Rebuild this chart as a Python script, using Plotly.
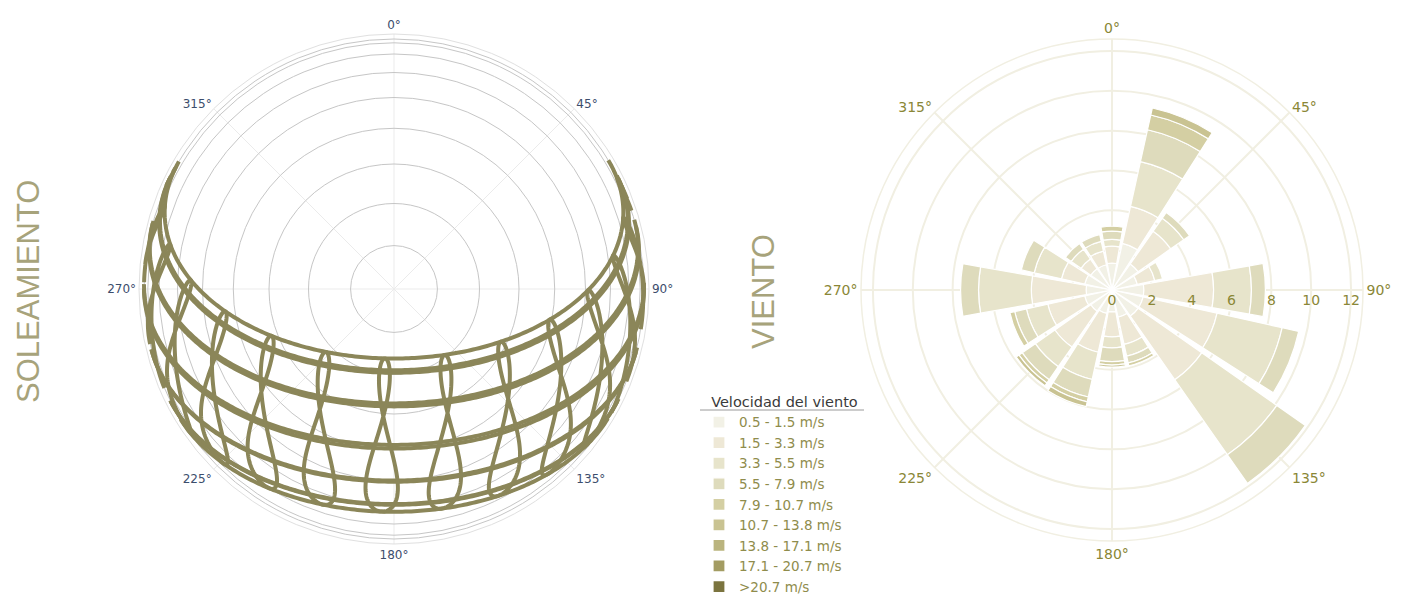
import numpy as np
import plotly.graph_objects as go

# ---- sun path (soleamiento) inputs ----
LATITUDE = 39.6
LONGITUDE = 2.65
UTC_OFFSET = 1
# day of year of the 21st of each month
PATH_DAYS = [21, 52, 80, 111, 141, 172, 202, 233, 264, 294, 325, 355]
# clock hours drawn as analemmas
HOURS = [5, 6, 7, 8, 9, 10, 11, 12, 13, 14, 15, 16, 17, 18, 19, 20]
ALTITUDE_RINGS = [0, 10, 20, 30, 40, 50, 60, 70, 80]

# ---- wind rose (viento) data, % of time per direction and speed bin ----
DIRECTIONS = [0, 22.5, 45, 67.5, 90, 112.5, 135, 157.5,
              180, 202.5, 225, 247.5, 270, 292.5, 315, 337.5]
SPEED_BINS = ["0.5 - 1.5 m/s", "1.5 - 3.3 m/s", "3.3 - 5.5 m/s", "5.5 - 7.9 m/s",
              "7.9 - 10.7 m/s", "10.7 - 13.8 m/s", "13.8 - 17.1 m/s",
              "17.1 - 20.7 m/s", ">20.7 m/s"]
#              N     NNE   NE    ENE   E     ESE   SE    SSE   S     SSW   SW    WSW   W     WNW   NW    NNW
BIN_1 = [1.35, 2.40, 1.60, 1.30, 1.60, 1.60, 1.60, 1.40, 1.10, 1.20, 1.30, 1.40, 1.30, 1.40, 1.30, 1.30]
BIN_2 = [0.85, 1.90, 2.00, 0.90, 3.50, 3.80, 3.90, 1.40, 1.25, 2.00, 2.20, 1.90, 2.75, 1.20, 0.60, 0.70]
BIN_3 = [0.34, 2.30, 0.80, 0.40, 1.90, 3.35, 4.60, 0.60, 0.55, 1.40, 1.20, 1.10, 2.65, 1.40, 0.60, 0.50]
BIN_4 = [0.42, 1.64, 0.35, 0.00, 0.70, 0.85, 1.75, 0.35, 0.70, 0.90, 0.80, 0.60, 0.90, 0.66, 0.35, 0.35]
BIN_5 = [0.24, 0.76, 0.00, 0.00, 0.00, 0.00, 0.00, 0.15, 0.17, 0.25, 0.20, 0.25, 0.00, 0.00, 0.00, 0.00]
BIN_6 = [0.00, 0.36, 0.00, 0.00, 0.00, 0.00, 0.00, 0.00, 0.10, 0.25, 0.17, 0.00, 0.00, 0.00, 0.00, 0.00]
BIN_7 = [0.0] * 16
BIN_8 = [0.0] * 16
BIN_9 = [0.0] * 16
BIN_VALUES = [BIN_1, BIN_2, BIN_3, BIN_4, BIN_5, BIN_6, BIN_7, BIN_8, BIN_9]
BIN_COLORS = ["#f2f1e6", "#eee8d6", "#e7e4cb", "#dedbbc", "#d4cfa3",
              "#c9c392", "#bab47e", "#a39c62", "#7b743f"]

SUN_COLOR = "#8b8659"
OLIVE = "#8a8736"
TITLE_COLOR = "#a7a37b"

# page body has an 8px margin, figure fills the rest of the window
W, H = 1403, 589
OFF = 8


def fx(px):
    return (px - OFF) / W


def fy(py):
    return 1 - (py - OFF) / H


def sun_position(doy, minutes):
    '''altitude and azimuth (deg) for day of year and clock minutes'''
    g = 2 * np.pi / 365 * (doy - 1 + (minutes / 60 - 12) / 24)
    eot = 229.18 * (0.000075 + 0.001868 * np.cos(g) - 0.032077 * np.sin(g)
                    - 0.014615 * np.cos(2 * g) - 0.040849 * np.sin(2 * g))
    decl = (0.006918 - 0.399912 * np.cos(g) + 0.070257 * np.sin(g)
            - 0.006758 * np.cos(2 * g) + 0.000907 * np.sin(2 * g)
            - 0.002697 * np.cos(3 * g) + 0.00148 * np.sin(3 * g))
    tst = minutes + eot + 4 * LONGITUDE - 60 * UTC_OFFSET
    ha = np.radians(tst / 4 - 180)
    lat = np.radians(LATITUDE)
    sin_alt = np.sin(lat) * np.sin(decl) + np.cos(lat) * np.cos(decl) * np.cos(ha)
    alt = np.degrees(np.arcsin(np.clip(sin_alt, -1, 1)))
    az = np.degrees(np.arctan2(np.sin(ha), np.cos(ha) * np.sin(lat) - np.tan(decl) * np.cos(lat))) + 180
    return alt, az


def add_curve(r_all, t_all, alt, az):
    for a, z in zip(alt, az):
        if a >= 0:
            r_all.append(np.cos(np.radians(a)))
            t_all.append(z)
        else:
            r_all.append(None)
            t_all.append(None)
    r_all.append(None)
    t_all.append(None)


sun_r, sun_t = [], []
for day in PATH_DAYS:
    mins = np.arange(0, 1441, 3.0)
    alt, az = sun_position(np.full_like(mins, day), mins)
    add_curve(sun_r, sun_t, alt, az)
for hour in HOURS:
    days = np.arange(1, 367, 2.0)
    alt, az = sun_position(days, np.full_like(days, hour * 60))
    add_curve(sun_r, sun_t, alt, az)

fig = go.Figure()

fig.add_trace(go.Scatterpolar(
    r=sun_r, theta=sun_t, mode="lines", subplot="polar",
    line=dict(color=SUN_COLOR, width=4), connectgaps=False,
    showlegend=False, hoverinfo="skip"))

for name, vals, col in zip(SPEED_BINS, BIN_VALUES, BIN_COLORS):
    fig.add_trace(go.Barpolar(
        r=vals, theta=DIRECTIONS, width=20, name=name, subplot="polar2",
        marker=dict(color=col, line=dict(color="white", width=1.2))))

angle_ticks = [0, 45, 90, 135, 180, 225, 270, 315]
angle_text = [f"{a}°" for a in angle_ticks]

# page positions: left chart centre and radius, right chart centre and radius
LC, LR = (394, 289), 255
RC, RR = (1112, 290), 251

fig.update_layout(
    width=W, height=H, autosize=False,
    margin=dict(l=0, r=0, t=0, b=0, autoexpand=False),
    paper_bgcolor="white", plot_bgcolor="white",
    font=dict(family="DejaVu Sans"),
    polar=dict(
        domain=dict(x=[fx(LC[0] - LR), fx(LC[0] + LR)], y=[fy(LC[1] + LR), fy(LC[1] - LR)]),
        bgcolor="white",
        radialaxis=dict(range=[0, 1.02], tickvals=[np.cos(np.radians(a)) for a in ALTITUDE_RINGS],
                        showticklabels=False, ticks="", showline=False,
                        gridcolor="#c6c6c6", gridwidth=1),
        angularaxis=dict(rotation=90, direction="clockwise", tickvals=angle_ticks, ticktext=angle_text,
                         ticks="", showline=True, linecolor="#e0e0e0", gridcolor="#ebebeb",
                         tickfont=dict(size=12, color="#3c4d6c")),
    ),
    polar2=dict(
        domain=dict(x=[fx(RC[0] - RR), fx(RC[0] + RR)], y=[fy(RC[1] + RR), fy(RC[1] - RR)]),
        bgcolor="white", barmode="stack",
        radialaxis=dict(range=[0, 12.6], tickvals=[0, 2, 4, 6, 8, 10, 12], angle=0,
                        ticks="", showline=False, gridcolor="#f1efe2", gridwidth=1.5,
                        tickfont=dict(size=14, color=OLIVE)),
        angularaxis=dict(rotation=90, direction="clockwise", tickvals=angle_ticks, ticktext=angle_text,
                         ticks="", showline=True, linecolor="#f1efe2", linewidth=1.5,
                         gridcolor="#f1efe2", gridwidth=1.5,
                         tickfont=dict(size=14, color=OLIVE)),
    ),
    legend=dict(x=fx(699), xanchor="left", y=fy(388), yanchor="top", traceorder="normal",
                title=dict(text="\u2002\u2009Velocidad del viento", font=dict(size=14.5, color="#3a3a3a")),
                font=dict(size=13.5, color="#8f8c4c"), bgcolor="rgba(0,0,0,0)"),
    shapes=[dict(type="line", xref="paper", yref="paper", x0=fx(700), x1=fx(864),
                 y0=fy(410), y1=fy(410), line=dict(color="#9a9a9a", width=1))],
    annotations=[
        dict(text="SOLEAMIENTO", x=fx(28), y=fy(292), xref="paper", yref="paper",
             xanchor="center", yanchor="middle", textangle=-90, showarrow=False,
             font=dict(size=31, color=TITLE_COLOR, family="Liberation Sans")),
        dict(text="VIENTO", x=fx(763), y=fy(292), xref="paper", yref="paper",
             xanchor="center", yanchor="middle", textangle=-90, showarrow=False,
             font=dict(size=31, color=TITLE_COLOR, family="Liberation Sans")),
    ],
)

fig.write_html("out.html")
